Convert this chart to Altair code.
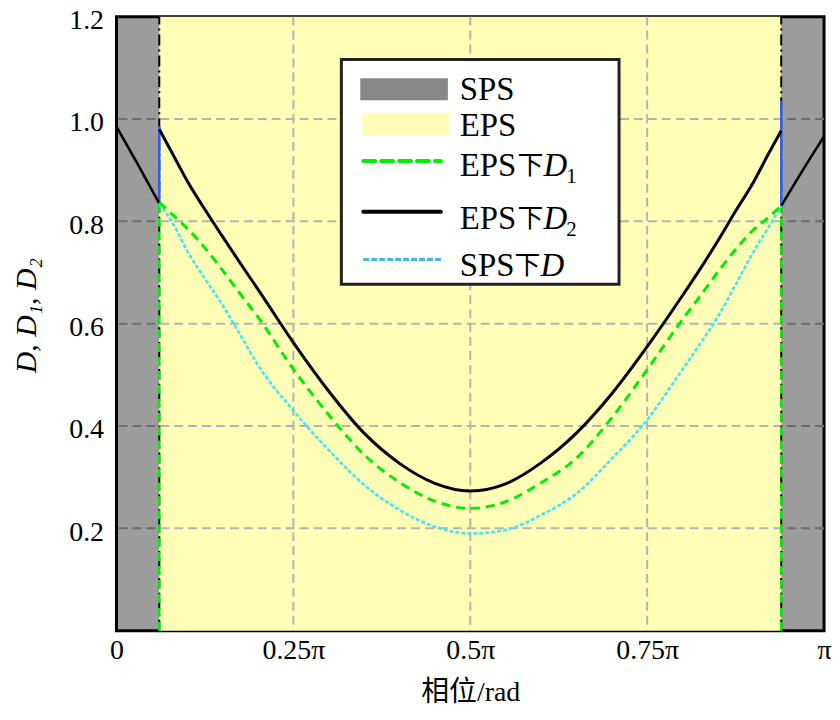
import altair as alt
import pandas as pd

# ---------------- data (phase in units of pi) ----------------
phase = [0.0605, 0.08, 0.1, 0.125, 0.15, 0.175, 0.2, 0.25, 0.3, 0.35, 0.4, 0.45, 0.5,
         0.55, 0.6, 0.65, 0.7, 0.75, 0.8, 0.825, 0.85, 0.875, 0.9, 0.92, 0.9395]
d2_eps = [0.980, 0.930, 0.879, 0.823, 0.770, 0.718, 0.667, 0.563, 0.468, 0.386, 0.327, 0.288, 0.273,
          0.287, 0.328, 0.386, 0.463, 0.555, 0.655, 0.707, 0.762, 0.820, 0.876, 0.928, 0.977]
d1_eps = [0.837, 0.812, 0.786, 0.748, 0.704, 0.658, 0.613, 0.511, 0.422, 0.344, 0.290, 0.253, 0.239,
          0.252, 0.289, 0.337, 0.416, 0.510, 0.608, 0.654, 0.701, 0.745, 0.783, 0.806, 0.830]
d_sps = [0.835, 0.795, 0.742, 0.688, 0.636, 0.578, 0.519, 0.430, 0.353, 0.285, 0.236, 0.203, 0.190,
         0.197, 0.226, 0.268, 0.336, 0.412, 0.511, 0.561, 0.614, 0.676, 0.740, 0.785, 0.830]

# SPS-region curve (outside the EPS window)
sps_left_phase = [0.0, 0.03, 0.0605]
sps_left_val = [0.985, 0.912, 0.835]
sps_right_phase = [0.9395, 0.97, 1.0]
sps_right_val = [0.830, 0.900, 0.966]

sps_regions_start = [0.0, 0.9395]
sps_regions_end = [0.0605, 1.0]
eps_start = [0.0605]
eps_end = [0.9395]
y_min = 0.0
y_max = 1.2

bounds = [0.0605, 0.9395]
blue_low = [0.835, 0.830]
blue_high = [0.986, 1.035]
green_high = [0.835, 0.830]

x_ticks = [0, 0.25, 0.5, 0.75, 1.0]
x_labels = ["0", "0.25π", "0.5π", "0.75π", "π"]
y_ticks = [0.2, 0.4, 0.6, 0.8, 1.0, 1.2]
x_grid = [0.25, 0.5, 0.75]
y_grid = [0.2, 0.4, 0.6, 0.8, 1.0]

# ---------------- tables ----------------
curves = pd.DataFrame({"phase": phase, "d2": d2_eps, "d1": d1_eps, "d": d_sps})
outside = pd.DataFrame({
    "phase": sps_left_phase + sps_right_phase,
    "val": sps_left_val + sps_right_val,
    "seg": ["L"] * len(sps_left_phase) + ["R"] * len(sps_right_phase),
})
sps_df = pd.DataFrame({"a": sps_regions_start, "b": sps_regions_end,
                       "lo": [y_min] * 2, "hi": [y_max] * 2})
eps_df = pd.DataFrame({"a": eps_start, "b": eps_end, "lo": [y_min], "hi": [y_max]})
bound_df = pd.DataFrame({"x": bounds, "blo": blue_low, "bhi": blue_high, "ghi": green_high,
                         "lo": [y_min] * 2, "hi": [y_max] * 2})
xg_df = pd.DataFrame({"x": x_grid})
yg_df = pd.DataFrame({"y": y_grid})
one = pd.DataFrame({"k": [0]})

W, H = 711, 617
SERIF = "Liberation Serif"
MIXED = "Liberation Serif, Noto Sans CJK SC"

xs = alt.Scale(domain=[0, 1], nice=False, zero=False)
ys = alt.Scale(domain=[y_min, y_max], nice=False, zero=False)

label_expr = ("datum.value == 0 ? '0' : datum.value == 0.25 ? '0.25π' : "
              "datum.value == 0.5 ? '0.5π' : datum.value == 0.75 ? '0.75π' : 'π'")

XA = alt.Axis(values=x_ticks, labelExpr=label_expr, grid=False, ticks=False, domain=False,
              title="相位/rad", labelFont=SERIF, labelFontSize=28, labelColor="black",
              labelPadding=6, labelFlush=False, titleFont=MIXED, titleFontSize=28,
              titleFontWeight="normal", titleColor="black", titleY=62, titleBaseline="middle")
YA = alt.Axis(values=y_ticks, format=".1f", grid=False, ticks=False, domain=False,
              title="D, D₁, D₂", labelFont=SERIF, labelFontSize=28, labelColor="black",
              labelPadding=13, labelOffset=4, labelFlush=False, titleFont=SERIF, titleFontSize=30,
              titleFontStyle="italic", titleFontWeight="normal", titleColor="black",
              titleX=-90, titleY=300, titleAlign="center", titleBaseline="middle", titleAngle=-90)


def X(f):
    return alt.X(f, scale=xs, axis=XA, title="相位/rad")


def Y(f):
    return alt.Y(f, scale=ys, axis=YA, title="D, D₁, D₂")


eps_band = alt.Chart(eps_df).mark_rect(color="#FFFDB6").encode(
    x=X("a:Q"), x2="b:Q", y=Y("lo:Q"), y2="hi:Q")

grid_h = alt.Chart(yg_df).mark_rule(color="#b4b4b4", strokeWidth=2, strokeDash=[9, 5]).encode(
    y=Y("y:Q"))
grid_v = alt.Chart(xg_df).mark_rule(color="#b4b4b4", strokeWidth=2, strokeDash=[9, 5]).encode(
    x=X("x:Q"))

sps_band = alt.Chart(sps_df).mark_rect(color="black", opacity=0.39).encode(
    x=X("a:Q"), x2="b:Q", y=Y("lo:Q"), y2="hi:Q")

dashdot = alt.Chart(bound_df).mark_rule(color="black", strokeWidth=2, strokeDash=[11, 4, 2, 4]).encode(
    x=X("x:Q"), y=Y("lo:Q"), y2="hi:Q")
green_v = alt.Chart(bound_df).mark_rule(color="#00ee00", strokeWidth=2.5, strokeDash=[9, 5]).encode(
    x=X("x:Q"), y=Y("lo:Q"), y2="ghi:Q")
blue_v = alt.Chart(bound_df).mark_rule(color="#2a5cff", strokeWidth=2.5).encode(
    x=X("x:Q"), y=Y("blo:Q"), y2="bhi:Q")

out_line = alt.Chart(outside).mark_line(color="black", strokeWidth=2.6, interpolate="monotone").encode(
    x=X("phase:Q"), y=Y("val:Q"), detail="seg:N")
cyan_line = alt.Chart(curves).mark_line(color="#3ee8f8", strokeWidth=2.6, strokeDash=[4, 2],
                                        interpolate="monotone").encode(
    x=X("phase:Q"), y=Y("d:Q"))
green_line = alt.Chart(curves).mark_line(color="#00ee00", strokeWidth=3, strokeDash=[9, 6],
                                         interpolate="monotone").encode(
    x=X("phase:Q"), y=Y("d1:Q"))
black_line = alt.Chart(curves).mark_line(color="black", strokeWidth=3, interpolate="monotone").encode(
    x=X("phase:Q"), y=Y("d2:Q"))


# ---------------- legend (pixel positions inside the plot area) ----------------
def lrect(x1, x2, y1, y2, **kw):
    return alt.Chart(one).mark_rect(**kw).encode(
        x=alt.value(x1), x2=alt.value(x2), y=alt.value(y1), y2=alt.value(y2))


def lrule(x1, x2, y, **kw):
    return alt.Chart(one).mark_rule(**kw).encode(
        x=alt.value(x1), x2=alt.value(x2), y=alt.value(y), y2=alt.value(y))


def ltext(x, y, s, size=33, style="normal", font=SERIF):
    return alt.Chart(one).mark_text(align="left", baseline="alphabetic", font=font,
                                    fontSize=size, fontStyle=style, color="black").encode(
        x=alt.value(x), y=alt.value(y), text=alt.value(s))


TX = 345
CJK = "Noto Sans CJK SC"
legend = [
    lrect(226, 505, 43, 269, fill="white", stroke="#222222", strokeWidth=3),
    lrect(245, 333, 62, 84, color="#888888"),
    ltext(TX, 84, "SPS"),
    lrect(247, 334, 97, 119, color="#FFFDB6"),
    ltext(TX, 120, "EPS"),
    lrule(248, 326, 145, color="#00ee00", strokeWidth=4, strokeDash=[12, 6], strokeCap="round"),
    ltext(TX, 160, "EPS"),
    ltext(403, 158, "下", size=26, font=CJK),
    ltext(429, 160, "D", style="italic"),
    ltext(452, 167, "1", size=21),
    lrule(248, 326, 196, color="black", strokeWidth=4, strokeCap="round"),
    ltext(TX, 213, "EPS"),
    ltext(403, 211, "下", size=26, font=CJK),
    ltext(429, 213, "D", style="italic"),
    ltext(452, 220, "2", size=21),
    lrule(248, 326, 244, color="#45b5f0", strokeWidth=3, strokeDash=[6, 2]),
    ltext(TX, 261, "SPS"),
    ltext(400, 259, "下", size=26, font=CJK),
    ltext(426, 261, "D", style="italic"),
]

chart = alt.layer(
    eps_band, grid_h, grid_v, sps_band, dashdot, green_v, blue_v,
    out_line, cyan_line, green_line, black_line, *legend
).properties(
    width=W, height=H,
    background="white",
    autosize=alt.AutoSizeParams(type="none"),
    padding={"left": 109, "top": 7, "right": 8, "bottom": 76},
).configure_view(
    stroke="black", strokeWidth=3
)

chart.save("out.html", embed_options={"renderer": "svg", "actions": False})
